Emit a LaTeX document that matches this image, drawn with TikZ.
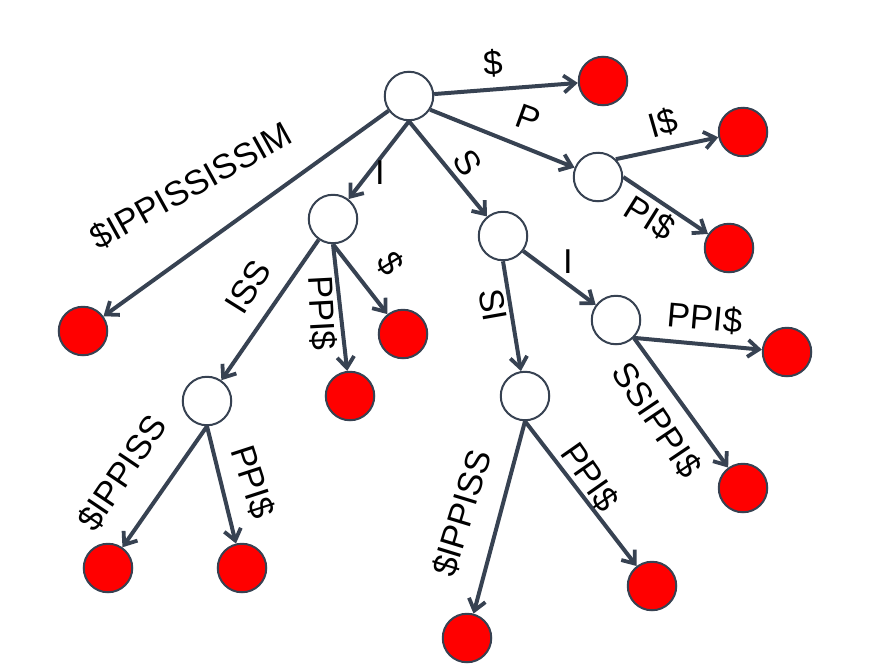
\documentclass[tikz,border=0pt]{standalone}
\usepackage{fontspec}
\newfontfamily\lblfont{Liberation Sans}
\usetikzlibrary{arrows.meta}
\definecolor{edgec}{RGB}{55,66,82}
\tikzset{
  inner/.style={circle,draw=edgec,line width=2pt,fill=white,minimum size=48.5pt,inner sep=0pt},
  leaf/.style={circle,draw=edgec,line width=2pt,fill=red,minimum size=48.5pt,inner sep=0pt},
  conn/.style={draw=edgec,line width=4pt,-{Straight Barb[length=11pt,width=17pt,line width=3.8pt]}},
  lbl/.style={font=\lblfont\fontsize{34.5}{34.5}\selectfont,inner sep=0pt}
}
\begin{document}
\begin{tikzpicture}[x=1pt,y=-1pt]
\useasboundingbox (0,0) rectangle (894,670);
% internal nodes
\node[inner] (root) at (409,96) {};
\node[inner] (p) at (598,177) {};
\node[inner] (s) at (503,236) {};
\node[inner] (si) at (616,320) {};
\node[inner] (ss) at (525,396) {};
\node[inner] (i) at (333,219) {};
\node[inner] (iss) at (207,401) {};
% leaves
\node[leaf] (ldollar) at (603,81) {};
\node[leaf] (lpi1) at (743,132) {};
\node[leaf] (lpi2) at (729,248) {};
\node[leaf] (lsip) at (787,352) {};
\node[leaf] (lsipp) at (743,488) {};
\node[leaf] (lss1) at (467,638) {};
\node[leaf] (lss2) at (652,586) {};
\node[leaf] (lroot) at (83,331) {};
\node[leaf] (li1) at (403,334) {};
\node[leaf] (li2) at (350,396) {};
\node[leaf] (liss1) at (108,568) {};
\node[leaf] (liss2) at (242,568) {};
% connectors
\draw[conn] (root) -- (ldollar);
\draw[conn] (root.-33) -- (p);
\draw[conn] (p.north east) -- (lpi1);
\draw[conn] (p.east) -- (lpi2);
\draw[conn] (root.south) -- (s);
\draw[conn] (root.south) -- (i);
\draw[conn] (root) -- (lroot);
\draw[conn] (s.south) -- (ss);
\draw[conn] (s) -- (si);
\draw[conn] (si.south east) -- (lsip);
\draw[conn] (si.south east) -- (lsipp);
\draw[conn] (ss.south) -- (lss1);
\draw[conn] (ss.south) -- (lss2);
\draw[conn] (i) -- (iss);
\draw[conn] (i.south) -- (li2);
\draw[conn] (i.south) -- (li1);
\draw[conn] (iss.south) -- (liss1);
\draw[conn] (iss.south) -- (liss2);
% labels
\node[lbl,rotate=4] (t1) at (493,63) {\$};
\node[lbl,rotate=-20] (t2) at (528,118) {P};
\node[lbl,rotate=16] (t3) at (663,123) {I\$};
\node[lbl,rotate=-32] (t4) at (650,218) {PI\$};
\node[lbl,rotate=-57] (t5) at (468,163) {S};
\node[lbl] (t6) at (380,173) {I};
\node[lbl,rotate=29] (t7) at (191,186) {\$IPPISSISSIM};
\node[lbl,rotate=58] (t8) at (248,287) {ISS};
\node[lbl,rotate=-87] (t9) at (322,313) {PPI\$};
\node[lbl,rotate=-58] (t10) at (390,263) {\$};
\node[lbl,rotate=56] (t11) at (122,473) {\$IPPISS};
\node[lbl,rotate=-72] (t12) at (253,482) {PPI\$};
\node[lbl,rotate=-80] (t13) at (493,305) {SI};
\node[lbl] (t14) at (568,262) {I};
\node[lbl,rotate=-5] (t15) at (705,318) {PPI\$};
\node[lbl,rotate=-56] (t16) at (657,420) {SSIPPI\$};
\node[lbl,rotate=73] (t17) at (462,513) {\$IPPISS};
\node[lbl,rotate=-55] (t18) at (590,477) {PPI\$};
\end{tikzpicture}
\end{document}
